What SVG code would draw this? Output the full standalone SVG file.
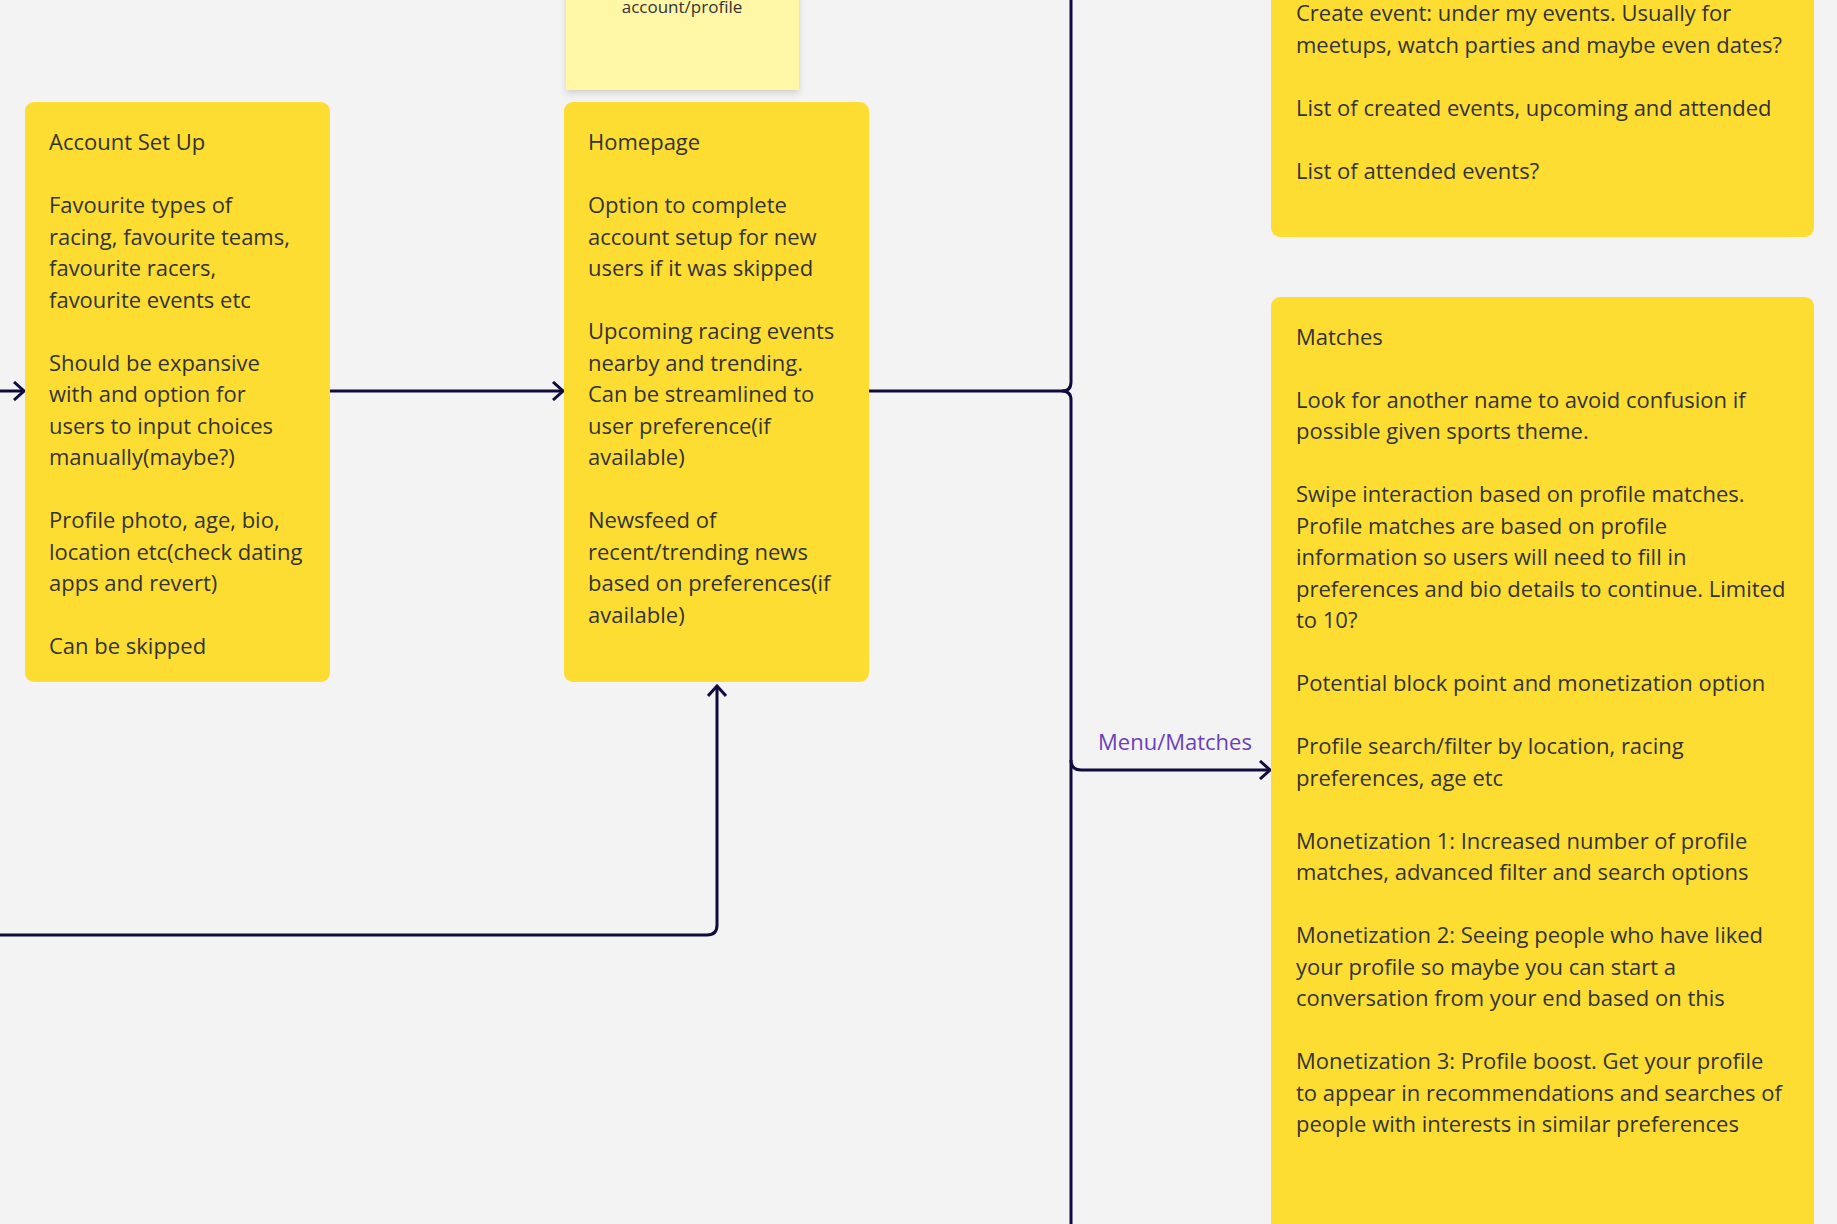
<svg xmlns="http://www.w3.org/2000/svg" width="1837" height="1224" viewBox="0 0 1837 1224">
<style>
.card{fill:#fedd33}
.t{font-family:"Open Sans","Noto Sans",sans-serif;font-size:22px;fill:#333}
.c{fill:none;stroke:#0f0c3d;stroke-width:3;stroke-linejoin:round}
</style>
<defs>
<marker id="a" viewBox="0 0 20 20" refX="18" refY="10" markerWidth="20" markerHeight="20" markerUnits="userSpaceOnUse" orient="auto">
<path d="M8,1 L18,10 L8,19" fill="none" stroke="#0f0c3d" stroke-width="3"/>
</marker>
<filter id="sh" x="-10%" y="-10%" width="120%" height="130%"><feDropShadow dx="0" dy="3" stdDeviation="3" flood-opacity="0.15"/></filter>
</defs>
<rect width="1837" height="1224" fill="#f3f3f3"/>
<g id="connectors">
<path class="c" d="M0,391 H24" marker-end="url(#a)"/>
<path class="c" d="M330,391 H563" marker-end="url(#a)"/>
<path class="c" d="M869,391 H1062 Q1071,391 1071,382 V0"/>
<path class="c" d="M1062,391 Q1071,391 1071,400 V1224"/>
<path class="c" d="M1071,760 Q1071,770 1081,770 H1270" marker-end="url(#a)"/>
<path class="c" d="M0,935 H707 Q717,935 717,925 V686" marker-end="url(#a)"/>
<text x="1175" y="750" text-anchor="middle" style="font-family:'Open Sans','Noto Sans',sans-serif;font-size:22px;fill:#6b3fb8">Menu/Matches</text>
</g>
<g id="sticky">
<rect x="566" y="-10" width="233" height="100" fill="#fff6a6" filter="url(#sh)"/>
<text x="682" y="13" text-anchor="middle" style="font-family:'Open Sans','Noto Sans',sans-serif;font-size:17px;fill:#333">account/profile</text>
</g>
<g id="account">
<rect class="card" x="25" y="102" width="305" height="580" rx="9"/>
<text class="t">
<tspan x="49" y="150">Account Set Up</tspan>
<tspan x="49" y="213">Favourite types of</tspan>
<tspan x="49" y="244.5">racing, favourite teams,</tspan>
<tspan x="49" y="276">favourite racers,</tspan>
<tspan x="49" y="307.5">favourite events etc</tspan>
<tspan x="49" y="370.5">Should be expansive</tspan>
<tspan x="49" y="402">with and option for</tspan>
<tspan x="49" y="433.5">users to input choices</tspan>
<tspan x="49" y="465">manually(maybe?)</tspan>
<tspan x="49" y="528">Profile photo, age, bio,</tspan>
<tspan x="49" y="559.5">location etc(check dating</tspan>
<tspan x="49" y="591">apps and revert)</tspan>
<tspan x="49" y="654">Can be skipped</tspan>
</text>
</g>
<g id="homepage">
<rect class="card" x="564" y="102" width="305" height="580" rx="9"/>
<text class="t">
<tspan x="588" y="150">Homepage</tspan>
<tspan x="588" y="213">Option to complete</tspan>
<tspan x="588" y="244.5">account setup for new</tspan>
<tspan x="588" y="276">users if it was skipped</tspan>
<tspan x="588" y="339">Upcoming racing events</tspan>
<tspan x="588" y="370.5">nearby and trending.</tspan>
<tspan x="588" y="402">Can be streamlined to</tspan>
<tspan x="588" y="433.5">user preference(if</tspan>
<tspan x="588" y="465">available)</tspan>
<tspan x="588" y="528">Newsfeed of</tspan>
<tspan x="588" y="559.5">recent/trending news</tspan>
<tspan x="588" y="591">based on preferences(if</tspan>
<tspan x="588" y="622.5">available)</tspan>
</text>
</g>
<g id="events">
<rect class="card" x="1271" y="-20" width="543" height="257" rx="9"/>
<text class="t">
<tspan x="1296" y="21">Create event: under my events. Usually for</tspan>
<tspan x="1296" y="52.5">meetups, watch parties and maybe even dates?</tspan>
<tspan x="1296" y="115.5">List of created events, upcoming and attended</tspan>
<tspan x="1296" y="178.5">List of attended events?</tspan>
</text>
</g>
<g id="matches">
<rect class="card" x="1271" y="297" width="543" height="950" rx="9"/>
<text class="t">
<tspan x="1296" y="344.5">Matches</tspan>
<tspan x="1296" y="407.5">Look for another name to avoid confusion if</tspan>
<tspan x="1296" y="439">possible given sports theme.</tspan>
<tspan x="1296" y="502">Swipe interaction based on profile matches.</tspan>
<tspan x="1296" y="533.5">Profile matches are based on profile</tspan>
<tspan x="1296" y="565">information so users will need to fill in</tspan>
<tspan x="1296" y="596.5">preferences and bio details to continue. Limited</tspan>
<tspan x="1296" y="628">to 10?</tspan>
<tspan x="1296" y="691">Potential block point and monetization option</tspan>
<tspan x="1296" y="754">Profile search/filter by location, racing</tspan>
<tspan x="1296" y="785.5">preferences, age etc</tspan>
<tspan x="1296" y="848.5">Monetization 1: Increased number of profile</tspan>
<tspan x="1296" y="880">matches, advanced filter and search options</tspan>
<tspan x="1296" y="943">Monetization 2: Seeing people who have liked</tspan>
<tspan x="1296" y="974.5">your profile so maybe you can start a</tspan>
<tspan x="1296" y="1006">conversation from your end based on this</tspan>
<tspan x="1296" y="1069">Monetization 3: Profile boost. Get your profile</tspan>
<tspan x="1296" y="1100.5">to appear in recommendations and searches of</tspan>
<tspan x="1296" y="1132">people with interests in similar preferences</tspan>
</text>
</g>
</svg>
